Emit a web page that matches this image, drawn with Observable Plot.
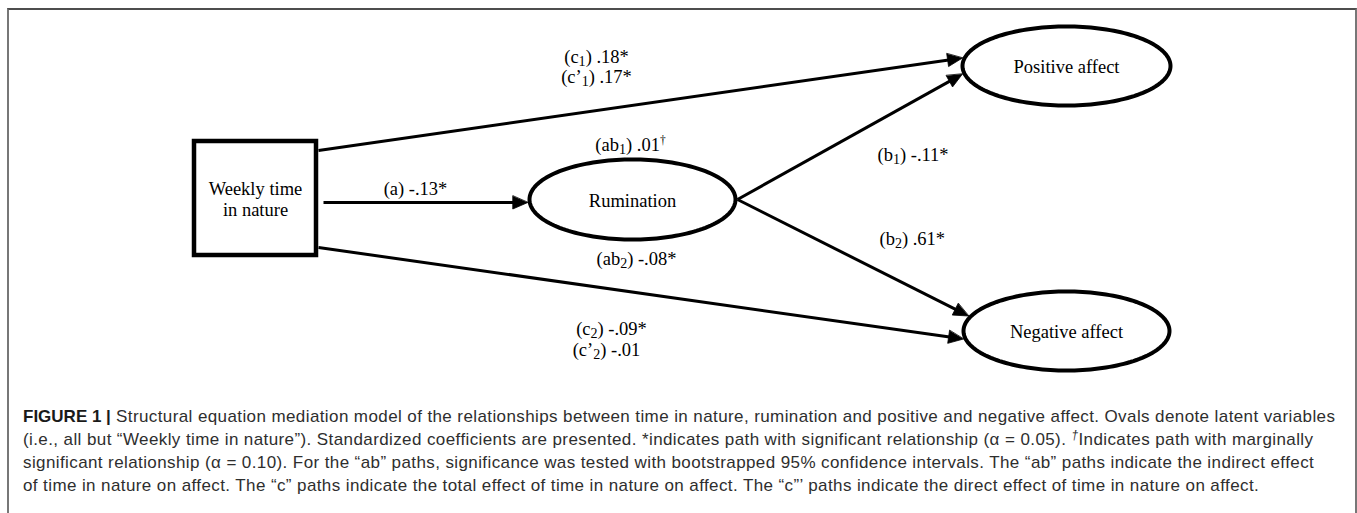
<!DOCTYPE html>
<html>
<head>
<meta charset="utf-8">
<script src="https://cdn.jsdelivr.net/npm/d3@7"></script>
<script src="https://cdn.jsdelivr.net/npm/@observablehq/plot@0.6"></script>
<style>
  html, body { margin: 0; padding: 0; background: #fff; }
  #wrap { position: relative; width: 1357px; height: 513px; overflow: hidden; background: #fff; }
  #frame { position: absolute; left: 7px; top: 8px; width: 1350px; height: 540px; box-sizing: border-box;
           border-left: 2px solid #777; border-right: 2px solid #777; border-top: 2px solid #4d4d4d; }
  #chart { position: absolute; left: 0; top: 0; }
  #caption { position: absolute; left: 23px; top: 405px; font-family: "Liberation Sans", Arial, sans-serif;
             font-size: 17px; letter-spacing: 0.4px; line-height: 23px; color: #2e2e2e; white-space: nowrap; }
  #caption b { font-weight: 700; color: #1a1a1a; letter-spacing: 0; }
  #caption sup { font-size: 0.7em; line-height: 0; vertical-align: 0.5em; }
</style>
</head>
<body>
<div id="wrap"><div id="frame"></div><div id="chart"></div><div id="caption"></div></div>
<script>
// ---------- DATA ----------
const nodeIds    = ["nature", "rumination", "positive", "negative"];
const nodeLabels = ["Weekly time\nin nature", "Rumination", "Positive affect", "Negative affect"];
const nodeKinds  = ["observed", "latent", "latent", "latent"];

// structural paths (from -> to)
const pathIds   = ["a", "c1", "c2", "b1", "b2"];
const pathFrom  = ["nature", "nature", "nature", "rumination", "rumination"];
const pathTo    = ["rumination", "positive", "negative", "positive", "negative"];

// coefficient labels ("_" = subscript, "^" = superscript)
const coefNames = ["a", "c_1", "c’_1", "ab_1", "b_1", "b_2", "ab_2", "c_2", "c’_2"];
const coefValues = ["-.13", ".18", ".17", ".01", "-.11", ".61", "-.08", "-.09", "-.01"];
const coefSig    = ["*", "*", "*", "^†", "*", "*", "*", "*", ""];

const captionLines = [
  "<b>FIGURE 1 |</b> Structural equation mediation model of the relationships between time in nature, rumination and positive and negative affect. Ovals denote latent variables",
  "(i.e., all but “Weekly time in nature”). Standardized coefficients are presented. *indicates path with significant relationship (α = 0.05). <sup><i>†</i></sup>Indicates path with marginally",
  "significant relationship (α = 0.10). For the “ab” paths, significance was tested with bootstrapped 95% confidence intervals. The “ab” paths indicate the indirect effect",
  "of time in nature on affect. The “c” paths indicate the total effect of time in nature on affect. The “c”’ paths indicate the direct effect of time in nature on affect."
];

// ---------- LAYOUT (diagram coordinate system) ----------
const nodeLayout = {
  nature:     {cx: 255,  cy: 198,   w: 122, h: 114},
  rumination: {cx: 632,  cy: 199,   rx: 103, ry: 40},
  positive:   {cx: 1066, cy: 65.5,  rx: 104, ry: 39.5},
  negative:   {cx: 1066, cy: 330.5, rx: 103, ry: 39.5}
};
// port offsets (vertical offset from node centre, gap from node edge)
const pathLayout = {
  a:  {fromDy: 4,   gap: 5, toDy: 3},
  c1: {fromDy: -48, gap: 0, toDy: -8},
  c2: {fromDy: 49,  gap: 0, toDy: 8},
  b1: {fromDy: 0,   gap: 0, toDy: 8},
  b2: {fromDy: 0,   gap: 0, toDy: -15}
};
const labelLayout = {
  "a":    {x: 415, y: 189, anchor: "middle"},
  "c_1":  {x: 596, y: 57,  anchor: "middle"},
  "c’_1": {x: 596, y: 77,  anchor: "middle"},
  "ab_1": {x: 630, y: 145, anchor: "middle"},
  "b_1":  {x: 877, y: 155, anchor: "start"},
  "b_2":  {x: 879, y: 239, anchor: "start"},
  "ab_2": {x: 636, y: 259, anchor: "middle"},
  "c_2":  {x: 611, y: 329, anchor: "middle"},
  "c’_2": {x: 606, y: 350, anchor: "middle"}
};
const STROKE = 4, LINE = 3, HEAD_L = 15, HEAD_W = 13;

// ---------- GEOMETRY ----------
const nodes = nodeIds.map((id, i) => ({id, label: nodeLabels[i], kind: nodeKinds[i], ...nodeLayout[id]}));
const byId = Object.fromEntries(nodes.map(n => [n.id, n]));

function portPoint(node, dy, side, gap) {
  if (node.kind === "observed") {
    const x = node.cx + side * (node.w / 2 + STROKE / 2 + gap);
    return [x, node.cy + dy];
  }
  const ox = node.rx + STROKE / 2, oy = node.ry + STROKE / 2;
  const x = node.cx + side * ox * Math.sqrt(Math.max(0, 1 - (dy / oy) ** 2));
  return [x + side * gap, node.cy + dy];
}

const links = [], heads = [];
pathIds.forEach((id, i) => {
  const f = byId[pathFrom[i]], t = byId[pathTo[i]], L = pathLayout[id];
  const side = t.cx > f.cx ? 1 : -1;
  const S = portPoint(f, L.fromDy, side, L.gap);
  const T = portPoint(t, L.toDy, -side, 0);
  const dx = T[0] - S[0], dy = T[1] - S[1], len = Math.hypot(dx, dy);
  const ux = dx / len, uy = dy / len, nx = -uy, ny = ux;
  const B = [T[0] - HEAD_L * ux, T[1] - HEAD_L * uy];
  links.push({id, x1: S[0], y1: S[1], x2: B[0] + ux, y2: B[1] + uy});
  heads.push({id, x: T[0], y: T[1]});
  heads.push({id, x: B[0] + nx * HEAD_W / 2, y: B[1] + ny * HEAD_W / 2});
  heads.push({id, x: B[0] - nx * HEAD_W / 2, y: B[1] - ny * HEAD_W / 2});
});

const ellipsePts = [];
nodes.filter(n => n.kind === "latent").forEach(n => {
  for (let k = 0; k < 160; k++) {
    const a = (k / 160) * 2 * Math.PI;
    ellipsePts.push({id: n.id, x: n.cx + n.rx * Math.cos(a), y: n.cy + n.ry * Math.sin(a)});
  }
});
const boxes = nodes.filter(n => n.kind === "observed").map(n => ({
  x1: n.cx - n.w / 2, x2: n.cx + n.w / 2, y1: n.cy - n.h / 2, y2: n.cy + n.h / 2
}));

const coefLabels = coefNames.map((name, i) => ({
  text: `(${name}) ${coefValues[i]}${coefSig[i]}`,
  ...labelLayout[name]
}));

const serif = "'Liberation Serif', 'Times New Roman', Times, serif";
const FS = 18.5;

const chart = Plot.plot({
  width: 1357, height: 395, margin: 0,
  style: {background: "transparent", overflow: "visible"},
  x: {domain: [0, 1357], range: [0, 1357], axis: null},
  y: {domain: [0, 395], range: [0, 395], axis: null},
  marks: [
    Plot.link(links, {x1: "x1", y1: "y1", x2: "x2", y2: "y2", stroke: "#000", strokeWidth: LINE, strokeLinecap: "butt"}),
    Plot.line(heads, {x: "x", y: "y", z: "id", fill: "#000", stroke: "#000", strokeWidth: 0.8, curve: "linear-closed", strokeLinejoin: "miter"}),
    Plot.line(ellipsePts, {x: "x", y: "y", z: "id", curve: "linear-closed", stroke: "#000", strokeWidth: STROKE, fill: "#fff"}),
    Plot.rect(boxes, {x1: "x1", x2: "x2", y1: "y1", y2: "y2", stroke: "#000", strokeWidth: 4.5, fill: "#fff"}),
    Plot.text(nodes, {x: "cx", y: n => n.cy + 0.5, text: "label", fontFamily: serif, fontSize: FS, lineHeight: 1.14, fill: "#000"}),
    Plot.text(coefLabels.filter(d => d.anchor === "middle"), {x: "x", y: "y", text: "text", fontFamily: serif, fontSize: FS, fill: "#000", textAnchor: "middle"}),
    Plot.text(coefLabels.filter(d => d.anchor === "start"), {x: "x", y: "y", text: "text", fontFamily: serif, fontSize: FS, fill: "#000", textAnchor: "start"})
  ]
});

// sub/superscripts as real tspans
const NS = "http://www.w3.org/2000/svg";
chart.querySelectorAll("text").forEach(el => {
  const s = el.textContent;
  if (!/[_^]/.test(s) || el.querySelector("tspan")) return;
  const parts = s.split(/([_^].)/).filter(p => p);
  el.textContent = "";
  let shift = 0;
  for (const p of parts) {
    const t = document.createElementNS(NS, "tspan");
    if (p[0] === "_" || p[0] === "^") {
      const d = p[0] === "_" ? 3 : -7;
      t.setAttribute("dy", d - shift); shift = d;
      t.setAttribute("font-size", p[0] === "_" ? "0.76em" : "0.62em");
      t.textContent = p.slice(1);
    } else {
      if (shift !== 0) t.setAttribute("dy", -shift);
      shift = 0;
      t.textContent = p;
    }
    el.appendChild(t);
  }
});

document.getElementById("chart").appendChild(chart);
document.getElementById("caption").innerHTML = captionLines.map(l => `<div>${l}</div>`).join("");
</script>
</body>
</html>
